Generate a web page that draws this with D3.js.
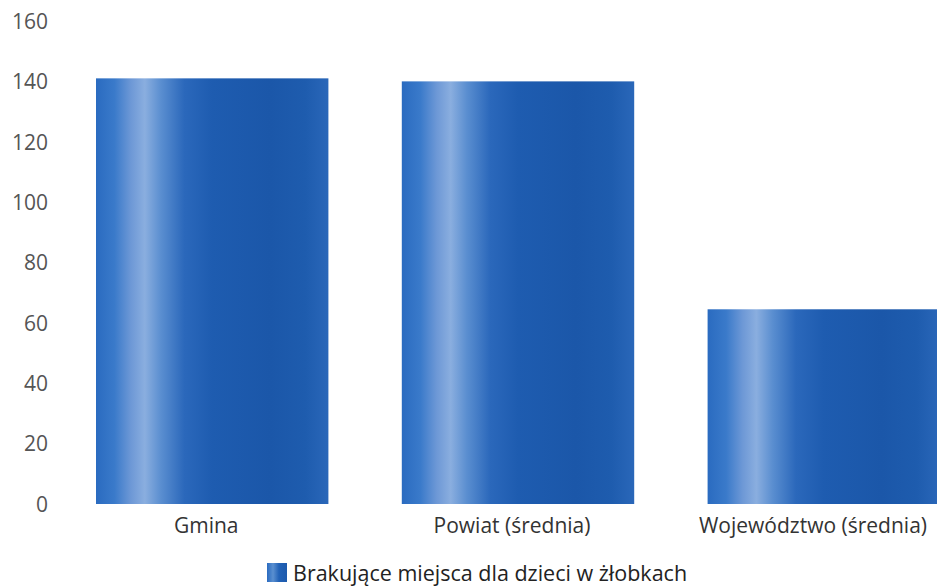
<!DOCTYPE html>
<html><head><meta charset="utf-8">
<script src="https://cdn.jsdelivr.net/npm/d3@7"></script>
<style>body{margin:0;background:#fff}svg{display:block}</style>
</head><body>
<svg id="c" width="937" height="587"></svg>
<script>
const categories = ["Gmina", "Powiat (średnia)", "Województwo (średnia)"];
const values = [141, 140, 64.5];
const yTicks = [0, 20, 40, 60, 80, 100, 120, 140, 160];
const seriesName = "Brakujące miejsca dla dzieci w żłobkach";

const svg = d3.select("#c");
const font = "'Open Sans', 'Noto Sans', sans-serif";

const y = d3.scaleLinear().domain([0, 160]).range([504, 21]);
const x = d3.scaleBand().domain(categories).range([96, 940]).paddingInner(0.24).paddingOuter(0);

const defs = svg.append("defs");
const g = defs.append("linearGradient").attr("id", "bg").attr("x1", "0").attr("x2", "1").attr("y1", "0").attr("y2", "0");
[[0, "#2a6bc0"], [0.08, "#3a7aca"], [0.15, "#6d98d6"], [0.21, "#8aaedf"], [0.28, "#5a8ed0"], [0.38, "#2b68bb"], [0.5, "#1e5cb0"], [0.75, "#1b57a9"], [0.9, "#1e5cae"], [1, "#2a67b9"]]
  .forEach(([o, c]) => g.append("stop").attr("offset", o).attr("stop-color", c));

const lg = defs.append("linearGradient").attr("id", "lg").attr("x1", "0").attr("x2", "1").attr("y1", "0").attr("y2", "0");
[[0, "#2a6bc0"], [0.3, "#5a8fd0"], [0.6, "#2262b7"], [1, "#1d5aad"]]
  .forEach(([o, c]) => lg.append("stop").attr("offset", o).attr("stop-color", c));

// y axis labels
const yAxis = d3.axisLeft(y).tickValues(yTicks).tickSize(0).tickPadding(0);
const ya = svg.append("g").attr("transform", "translate(48,0)").call(yAxis);
ya.select(".domain").remove();
ya.selectAll("text").attr("font-family", font).attr("font-size", 21).attr("fill", "#555").attr("dy", "0.35em");

// bars
svg.append("g").selectAll("rect").data(values).join("rect")
  .attr("x", (d, i) => x(categories[i]))
  .attr("width", x.bandwidth())
  .attr("y", d => y(d))
  .attr("height", d => y(0) - y(d))
  .attr("fill", "url(#bg)");

// x axis labels
const xAxis = d3.axisBottom(x).tickSize(0).tickPadding(0);
const xa = svg.append("g").attr("transform", "translate(-6,526)").call(xAxis);
xa.select(".domain").remove();
xa.selectAll("text").attr("font-family", font).attr("font-size", 21).attr("fill", "#333").attr("dy", "0.35em");
// keep labels inside the canvas
xa.selectAll(".tick").each(function(d) {
  const t = d3.select(this).select("text");
  const w = t.node().getComputedTextLength();
  const cx = x(d) + x.bandwidth() / 2 - 6;
  const overflow = cx + w / 2 - 927;
  if (overflow > 0) t.attr("dx", -overflow);
});

// legend
const leg = svg.append("g").attr("transform", "translate(267,563)");
leg.append("rect").attr("width", 20).attr("height", 19).attr("fill", "url(#lg)");
leg.append("text").attr("x", 26).attr("y", 10).attr("dy", "0.35em")
  .attr("font-family", font).attr("font-size", 21.5).attr("fill", "#222").text(seriesName);
</script>
</body></html>
